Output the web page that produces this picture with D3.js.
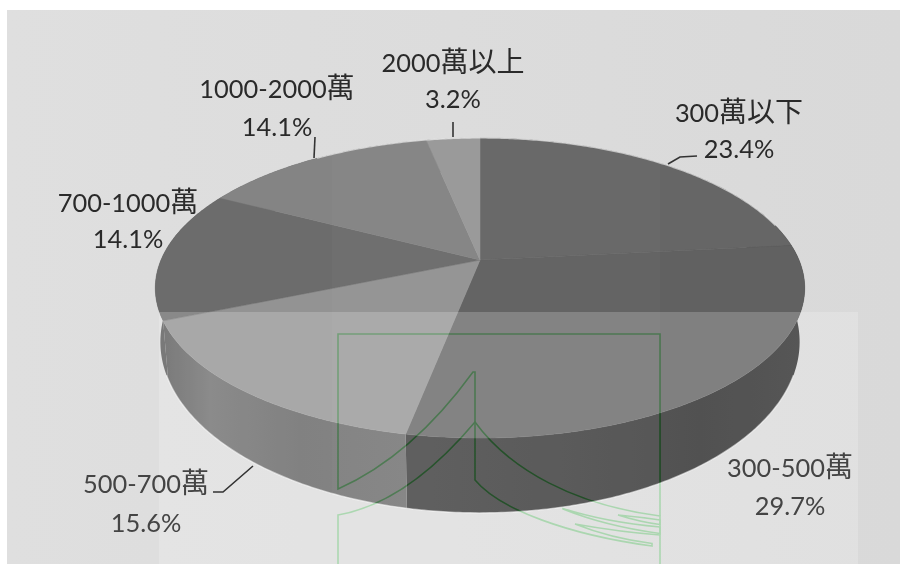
<!DOCTYPE html>
<html>
<head>
<meta charset="utf-8">
<script src="https://cdn.jsdelivr.net/npm/d3@7/dist/d3.min.js"></script>
<style>
  html, body { margin: 0; padding: 0; background: #fff; }
  svg { display: block; }
  text { font-family: Lato, "Noto Sans CJK TC", sans-serif; font-size: 25.4px; fill: #2a2a2a; text-anchor: middle; }
  .cjk { font-family: "Noto Sans CJK TC", sans-serif; font-size: 28px; }
  .soft text { fill: #444; }
</style>
</head>
<body>
<div id="chart"></div>
<script>
// Household income brackets and their shares, in percent
const brackets = ["300萬以下", "300-500萬", "500-700萬", "700-1000萬", "1000-2000萬", "2000萬以上"];
const shares = [23.4, 29.7, 15.6, 14.1, 14.1, 3.2];

const topFills = ["#666666", "#616161", "#939393", "#6c6c6c", "#848484", "#989898"];
const labelX = [739, 790, 146, 128, 277, 453];
const nameY = [122, 477, 493, 212, 98, 72];
const shareY = [158, 515, 532, 248, 136, 108];
const leaders = [
  "M668,164L680,157L697,156",
  null,
  "M213,492L223,492L253,466",
  null,
  "M315,137L314,158",
  "M453,122L453,137"
];

const width = 900, height = 564;
const svg = d3.select("#chart").append("svg").attr("width", width).attr("height", height);
const defs = svg.append("defs");

// Pie angles come straight from the shares
const arcs = d3.pie().sort(null)(shares);

// Tilted disc: a circle seen in perspective, so the apex sits above the ellipse centre
const apex = [480, 260];
const tilt = 0.1867;
const disc = (cx, cy, spanX, spanY) => a => {
  const w = 1 + tilt * Math.cos(a);
  return [cx + spanX * Math.sin(a) / w, cy - spanY * Math.cos(a) / w];
};
const upper = disc(apex[0], apex[1], 319, 144.8);
const lower = disc(apex[0], 310, 314, 165);

const rim = (from, to, proj) => {
  const n = Math.max(2, Math.ceil((to - from) / 0.01));
  return d3.range(n + 1).map(i => proj(from + (to - from) * i / n));
};
const outline = d3.line();

// Backdrop
const backdrop = defs.append("linearGradient").attr("id", "backdrop");
backdrop.append("stop").attr("offset", 0).attr("stop-color", "#dfdfdf");
backdrop.append("stop").attr("offset", 1).attr("stop-color", "#d9d9d9");
svg.append("rect").attr("x", 7).attr("y", 10).attr("width", 893).attr("height", 554).attr("fill", "url(#backdrop)");

// Side wall of the disc, one band per slice
const sideStops = [
  [[790, "#3a3a3a"], [810, "#3a3a3a"]],
  [[407, "#343434"], [560, "#2e2e2e"], [700, "#262626"], [800, "#2c2c2c"]],
  [[160, "#585858"], [210, "#6e6e6e"], [300, "#626262"], [407, "#666666"]],
  [[150, "#585858"], [170, "#585858"]],
  [[150, "#585858"], [170, "#585858"]],
  [[150, "#585858"], [170, "#585858"]]
];
sideStops.forEach((stops, i) => {
  const g = defs.append("linearGradient").attr("id", "side" + i)
    .attr("gradientUnits", "userSpaceOnUse")
    .attr("x1", stops[0][0]).attr("x2", stops[stops.length - 1][0]).attr("y1", 0).attr("y2", 0);
  const sx = d3.scaleLinear().domain([stops[0][0], stops[stops.length - 1][0]]).range([0, 1]);
  stops.forEach(s => g.append("stop").attr("offset", sx(s[0])).attr("stop-color", s[1]));
});
svg.append("g").selectAll("path").data(arcs).join("path")
  .attr("d", d => {
    const a = rim(d.startAngle, d.endAngle, upper);
    const b = rim(d.startAngle, d.endAngle, lower).reverse();
    return outline(a.concat(b)) + "Z";
  })
  .attr("fill", (d, i) => `url(#side${i})`);

// Pale fringe around the lower wall
svg.append("path")
  .attr("d", outline(rim(Math.PI * 0.62, Math.PI * 1.38, lower)))
  .attr("fill", "none").attr("stroke", "#fff").attr("stroke-opacity", 0.55).attr("stroke-width", 1.4);

// Top face
svg.append("g").selectAll("path").data(arcs).join("path")
  .attr("d", d => outline([apex].concat(rim(d.startAngle, d.endAngle, upper))) + "Z")
  .attr("fill", (d, i) => topFills[i])
  .attr("stroke", (d, i) => topFills[i]).attr("stroke-width", 0.5);

svg.append("path")
  .attr("d", outline(rim(-Math.PI * 0.2, Math.PI * 0.42, upper)))
  .attr("fill", "none").attr("stroke", "#fff").attr("stroke-opacity", 0.6).attr("stroke-width", 1.2);

// Translucent sheet and the faint seal printed over the lower half
svg.append("rect").attr("x", 332).attr("y", 10).attr("width", 328).attr("height", 554)
  .attr("fill", "#fff").attr("fill-opacity", 0.025);
svg.append("rect").attr("x", 159).attr("y", 312).attr("width", 699).attr("height", 252)
  .attr("fill", "#fff").attr("fill-opacity", 0.2);

const seal = [
  "M660,516V334H338V489Q412,456 473,372H475V480C500,510 570,535 652,546V543.5Q610,538 575,524Q620,532 660,535V564",
  "M338,564V515Q407,503 475,422C510,470 575,505 660,516V535",
  "M563,508.5Q605,522 660,527V533.5Q605,526 563,509Z",
  "M618,515Q640,517 660,520V524.5Q640,522 618,515Z"
];
svg.append("g").style("mix-blend-mode", "difference").selectAll("path").data(seal).join("path")
  .attr("d", d => d).attr("fill", "none").attr("stroke", "rgb(55,12,50)").attr("stroke-width", 1.6);

// Leader lines
svg.append("g").selectAll("path").data(leaders.filter(Boolean)).join("path")
  .attr("d", d => d).attr("fill", "none").attr("stroke", "#333").attr("stroke-width", 1.6);

// Labels: Latin digits and Chinese characters are set at different sizes
const labels = svg.append("g");
const softBand = d3.scaleThreshold().domain([312]).range([false, true]);
brackets.forEach((name, i) => {
  const g = labels.append("g").classed("soft", softBand(nameY[i]));
  const t = g.append("text").attr("x", labelX[i]).attr("y", nameY[i]);
  name.split(/([^\x00-\x7f]+)/).filter(Boolean).forEach(part => {
    t.append("tspan").classed("cjk", /[^\x00-\x7f]/.test(part)).text(part);
  });
  g.append("text").attr("x", labelX[i]).attr("y", shareY[i]).text(d3.format(".1f")(shares[i]) + "%");
});
</script>
</body>
</html>
